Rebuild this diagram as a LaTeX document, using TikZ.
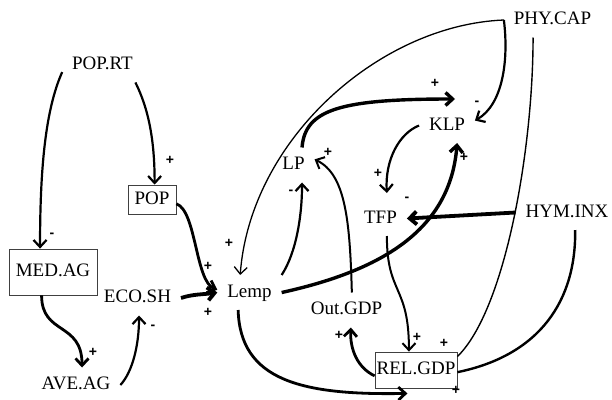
\documentclass[tikz,border=0pt]{standalone}
\usepackage{fontspec}
\setmainfont{Liberation Serif}
\newfontfamily\signfont{Liberation Sans}
\usetikzlibrary{arrows.meta}
\begin{document}
\begin{tikzpicture}[x=1pt,y=-1pt,
  var/.style={inner sep=2pt,outer sep=8pt,text height=12pt,text depth=3pt,font=\fontsize{19}{21}\selectfont},
  stock/.style={var,draw=black!75,line width=0.8pt,inner sep=0pt,outer sep=0.4pt},
  sign/.style={inner sep=0pt,font=\fontsize{14}{14}\selectfont\signfont\bfseries},
  link/.style={line width=2.2pt,-{Straight Barb[length=7pt,width=13pt]}}]
  \useasboundingbox (0,0) rectangle (612,399);
  \node[var] (POPRT) at (102.5,65) {POP.RT};
  \node[stock,minimum width=48pt,minimum height=29pt] (POP) at (152,199.5) {POP};
  \node[stock,minimum width=88pt,minimum height=46pt] (MEDAG) at (53,272) {MED.AG};
  \node[var] (ECOSH) at (137.5,298) {ECO.SH};
  \node[var] (AVEAG) at (76,385) {AVE.AG};
  \node[var] (Lemp) at (249.5,292.5) {Lemp};
  \node[var] (LP) at (293.5,165) {LP};
  \node[var] (KLP) at (447,125.5) {KLP};
  \node[var] (TFP) at (380.5,218.5) {TFP};
  \node[var] (HYMINX) at (567,212.5) {HYM.INX};
  \node[var] (PHYCAP) at (552.5,20) {PHY.CAP};
  \node[var] (OutGDP) at (346.5,310) {Out.GDP};
  \node[stock,minimum width=82pt,minimum height=36pt] (RELGDP) at (416,370) {REL.GDP};

  \draw[link] (POPRT.190) .. controls +(-17,38) and +(0,-79) .. (MEDAG.119);
  \draw[link] (POPRT.-28) .. controls +(13,26) and +(0,-45) .. (POP.80);
  \draw[link,line width=2.8pt] (POP.-10) .. controls +(20,7) and +(-22,-8) .. (Lemp.175);
  \draw[link,line width=3.8pt] (ECOSH.east) .. controls +(12,-4) and +(-14,2) .. (Lemp.west);
  \draw[link,line width=2.8pt] (MEDAG.-116) .. controls +(0,40) and +(0,-46) .. (AVEAG.71);
  \draw[link] (AVEAG.east) .. controls +(12,-13) and +(0,30) .. (ECOSH.-85);
  \draw[link] (Lemp.north east) .. controls +(15,-23) and +(0,32) .. (LP.-64);
  \draw[link,line width=1.3pt] (PHYCAP.west) .. controls +(-125,5) and +(10,-135) .. (Lemp.118);
  \draw[link] (PHYCAP.west) .. controls +(5,40) and +(28,-16) .. (KLP.10);
  \draw[link,line width=3.4pt] (LP.64) .. controls +(3,-38) and +(-115,0) .. ([xshift=8pt,yshift=9pt]KLP.north);
  \draw[link] (KLP.west) .. controls +(-20,8) and +(-2,-33) .. ([yshift=8pt]TFP.70);
  \draw[link,line width=3.8pt] (HYMINX.west) -- (TFP.east);
  \draw[link,line width=3.4pt] (Lemp.east) .. controls +(100,-22) and +(-7,87) .. (KLP.-60);
  \draw[link,line width=2pt] (TFP.-70) .. controls +(0,59) and +(0,-67) .. (RELGDP.111);
  \draw[link,line width=2pt] (OutGDP.73) .. controls +(-2,-72) and +(31,15) .. (LP.15);
  \draw[link,line width=2.8pt] (RELGDP.188) .. controls +(-17,-8) and +(-1,22) .. (OutGDP.-76);
  \draw[link,line width=2.8pt] (Lemp.-123) .. controls +(2,70) and +(-107,2) .. ([yshift=-5pt]RELGDP.-115);
  \draw[line width=1.4pt] (RELGDP.18) .. controls +(48,-47) and +(0,112) .. (PHYCAP.-138);
  \draw[line width=2.4pt] (RELGDP.-3) .. controls +(83,-17) and +(1,70) .. (HYMINX.-65);

  \foreach \n/\a/\b/\s in {1/52/235/-, 2/170/160/+, 3/208/266/+, 4/208/312/+, 5/93/352/+,
      6/153/327/-, 7/291/192/-, 8/229/243/+, 9/477/103/-, 10/435/83/+, 11/378/173/+,
      12/407/199/-, 13/464/157/+, 14/417/337/+, 15/328/152/+, 16/339/335/+,
      17/444/343/+, 18/456/390/+}
    \node[sign] (sg\n) at (\a,\b) {\s};
\end{tikzpicture}
\end{document}
